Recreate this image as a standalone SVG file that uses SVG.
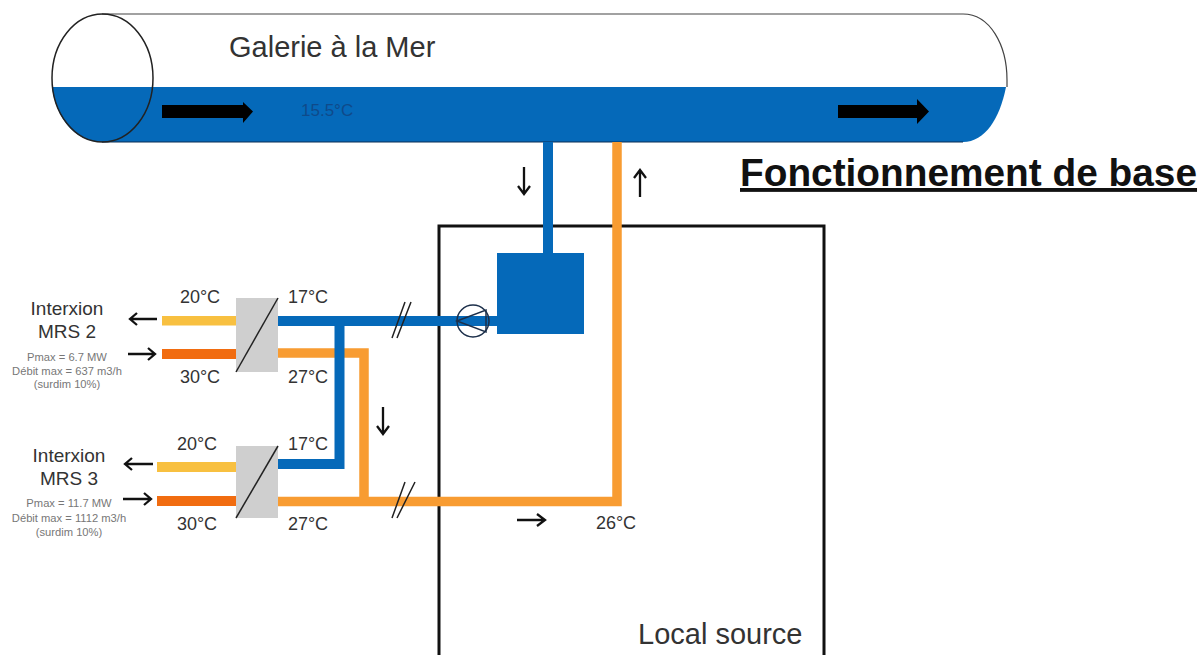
<svg xmlns="http://www.w3.org/2000/svg" width="1199" height="655" viewBox="0 0 1199 655">
<style>
text{font-family:"Liberation Sans",Arial,sans-serif;fill:#333}
.t{font-size:19px;text-anchor:middle}.l{font-size:18px;text-anchor:middle}.s{font-size:11.200px;fill:#777;text-anchor:middle}
.a{fill:none;stroke:#111;stroke-width:2.300}
.bl{fill:none;stroke:#0569b9;stroke-width:10}
.or{fill:none;stroke:#f89c32;stroke-width:9.500}
.hx{fill:#cfcfcf}.d{stroke:#222;stroke-width:1.500;fill:none}
</style>
<rect width="1199" height="655" fill="#fff"/>
<g id="galerie">
<path d="M52 87H1006C1000 118 985 142 963 142H102C75 142 56 118 52 87Z" fill="#0569b9"/>
<path d="M102 14H963C990 14 1007 45 1007 80V87" fill="none" stroke="#444" stroke-width="1.200"/>
<path d="M102 142H963" fill="none" stroke="#0b2f55" stroke-width="1"/>
<ellipse cx="102.500" cy="78" rx="50.500" ry="64" fill="none" stroke="#222" stroke-width="1.500"/>
<text x="229" y="57" font-size="29">Galerie à la Mer</text>
<text x="301" y="116" font-size="17" style="fill:#0f4a8a">15.5°C</text>
<path d="M162 105H243V102L253 111.500L243 123V118H162Z" fill="#000"/>
<path d="M838 105H917V99L929 111.500L917 124V118H838Z" fill="#000"/>
</g>
<text id="title" x="740" y="186" font-size="38.800" font-weight="700" text-decoration="underline" style="fill:#111">Fonctionnement de base</text>
<g id="local-source">
<rect x="439" y="226" width="385" height="440" fill="none" stroke="#111" stroke-width="3"/>
<text x="638" y="644" font-size="29">Local source</text>
</g>
<g id="connectors">
<path class="bl" d="M548 142V255"/>
<path class="or" d="M617 142V501.500H278"/>
<path class="or" d="M278 353H364V501"/>
<path class="bl" d="M278 321H500"/>
<path class="bl" d="M339.500 321V464H278"/>
<path class="a" d="M524 167V194M518 186L524 194L530 186"/>
<path class="a" d="M640 197V170M634 178L640 170L646 178"/>
<path class="a" d="M383 407V434M377 426L383 434L389 426"/>
<path class="a" d="M517 520H545M537 514L545 520L537 526"/>
<path class="d" d="M392 338L405 302M397 338L411 302"/>
<path class="d" d="M392 518L405 482M397 518L415 482"/>
</g>
<g id="tank"><rect x="497" y="253" width="87" height="81" fill="#0569b9"/></g>
<g id="pump"><circle cx="473" cy="321" r="16" fill="none" stroke="#1c2f4a" stroke-width="1.500"/><path d="M457 321L486 310V332Z" fill="none" stroke="#1c2f4a" stroke-width="1.500"/></g>
<g id="mrs2">
<rect x="162" y="316" width="74" height="9.500" fill="#f8c040"/>
<rect x="162" y="349" width="74" height="10" fill="#f16c10"/>
<rect class="hx" x="236" y="298" width="42" height="74"/>
<path class="d" d="M236 372L278 298"/>
<path class="a" d="M157 319H130M137 313L130 319L137 325"/>
<path class="a" d="M128 354H155M148 348L155 354L148 360"/>
<text class="l" x="200" y="303">20°C</text><text class="l" x="200" y="383">30°C</text>
<text class="l" x="308" y="303">17°C</text><text class="l" x="308" y="383">27°C</text>
<text class="t" x="67" y="315">Interxion</text>
<text class="t" x="67" y="338">MRS 2</text>
<text class="s" x="67" y="361">Pmax = 6.7 MW</text>
<text class="s" x="67" y="375">Débit max = 637 m3/h</text>
<text class="s" x="67" y="388">(surdim 10%)</text>
</g>
<g id="mrs3">
<rect x="157" y="462" width="79" height="10" fill="#f8c040"/>
<rect x="157" y="496" width="79" height="10" fill="#f16c10"/>
<rect class="hx" x="236" y="446" width="42" height="72"/>
<path class="d" d="M236 518L278 446"/>
<path class="a" d="M153 464H125M132 458L125 464L132 470"/>
<path class="a" d="M123 499H151M144 493L151 499L144 505"/>
<text class="l" x="197" y="450">20°C</text><text class="l" x="197" y="530">30°C</text>
<text class="l" x="308" y="450">17°C</text><text class="l" x="308" y="530">27°C</text>
<text class="t" x="69" y="462">Interxion</text>
<text class="t" x="69" y="485">MRS 3</text>
<text class="s" x="69" y="507">Pmax = 11.7 MW</text>
<text class="s" x="69" y="522">Débit max = 1112 m3/h</text>
<text class="s" x="69" y="536">(surdim 10%)</text>
</g>
<text id="t26" class="l" x="616" y="529">26°C</text>
</svg>
